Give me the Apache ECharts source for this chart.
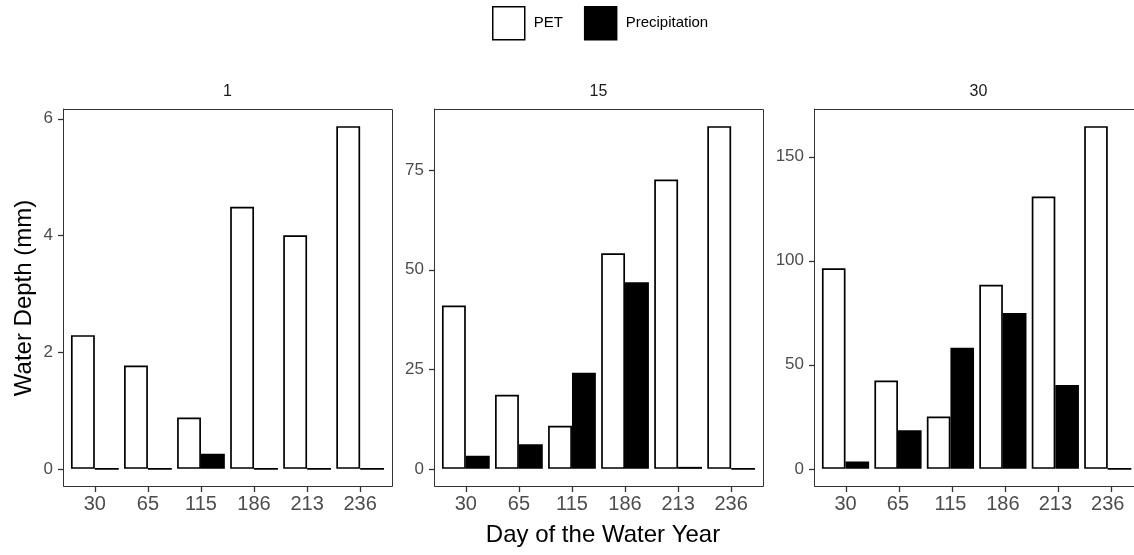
<!DOCTYPE html>
<html>
<head>
<meta charset="utf-8">
<script src="https://cdn.jsdelivr.net/npm/echarts@6/dist/echarts.min.js"></script>
<style>
html,body{margin:0;padding:0;background:#fff;}
#chart{width:1134px;height:555px;}
</style>
</head>
<body>
<div id="chart"></div>
<script>
// ---- data ----
const days = ['30', '65', '115', '186', '213', '236'];
const panelNames = ['1', '15', '30'];
const pet1 = [2.29, 1.77, 0.88, 4.49, 4.0, 5.87];
const precip1 = [0, 0, 0.26, 0, 0, 0];
const pet15 = [41.0, 18.6, 10.8, 54.1, 72.6, 86.0];
const precip15 = [3.3, 6.2, 24.1, 46.8, 0.5, 0];
const pet30 = [96.3, 42.4, 25.1, 88.4, 130.8, 164.6];
const precip30 = [3.5, 18.5, 58.2, 74.8, 40.3, 0];
const ticks1 = [0, 2, 4, 6];
const ticks15 = [0, 25, 50, 75];
const ticks30 = [0, 50, 100, 150];

const petSets = [pet1, pet15, pet30];
const precipSets = [precip1, precip15, precip30];
const tickSets = [ticks1, ticks15, ticks30];

// ---- layout ----
const FONT = 'Liberation Sans, Arial, Helvetica, sans-serif';
const panelLefts = [63, 434, 814];
const panelTop = 109, panelW = 329, panelH = 377;
const inset = panelW * 0.1 / 6.2;
const dataW = panelW * 6 / 6.2;

const grids = [], xAxes = [], yAxes = [], series = [], graphics = [];
panelLefts.forEach((pl, i) => {
  grids.push({left: pl + inset, top: panelTop, width: dataW, height: panelH, containLabel: false});
  const all = petSets[i].concat(precipSets[i]);
  const mx = Math.max.apply(null, all);
  xAxes.push({
    type: 'category', gridIndex: i, data: days, position: 'bottom',
    axisLine: {show: true, onZero: false, lineStyle: {color: '#333333', width: 1}},
    axisTick: {show: false},
    axisLabel: {color: '#4d4d4d', fontSize: 20, fontFamily: FONT, margin: 8},
    splitLine: {show: false}
  });
  yAxes.push({
    type: 'value', gridIndex: i, min: -0.05 * mx, max: 1.05 * mx,
    offset: inset,
    axisLine: {show: true, onZero: false, lineStyle: {color: '#333333', width: 1}},
    axisTick: {show: false},
    axisLabel: {color: '#4d4d4d', fontSize: 17, fontFamily: FONT, margin: 10, customValues: tickSets[i]},
    splitLine: {show: false}
  });
  series.push({
    name: 'PET', type: 'bar', xAxisIndex: i, yAxisIndex: i, data: petSets[i],
    barGap: '0%', barCategoryGap: '10%',
    itemStyle: {color: '#ffffff', borderColor: '#000000', borderWidth: 1.7},
    emphasis: {disabled: true}, animation: false
  });
  series.push({
    name: 'Precipitation', type: 'bar', xAxisIndex: i, yAxisIndex: i, data: precipSets[i],
    barGap: '0%', barCategoryGap: '10%',
    itemStyle: {color: '#000000', borderColor: '#000000', borderWidth: 1.7},
    emphasis: {disabled: true}, animation: false
  });
  graphics.push({
    type: 'rect', z: 10, silent: true,
    shape: {x: pl + 0.5, y: panelTop + 0.5, width: panelW, height: panelH},
    style: {fill: null, stroke: '#333333', lineWidth: 1}
  });
  graphics.push({
    type: 'text', z: 10, silent: true,
    x: pl + panelW / 2, y: 92,
    style: {text: panelNames[i], fill: '#1a1a1a', font: '16px ' + FONT, align: 'center', verticalAlign: 'middle'}
  });
  // x-axis tick marks at the centre of each category band
  const band = dataW / days.length;
  days.forEach((d, k) => {
    const xx = Math.round(pl + inset + (k + 0.5) * band) + 0.5;
    const yb = panelTop + panelH + 1;
    graphics.push({
      type: 'rect', z: 10, silent: true,
      shape: {x: xx - 0.65, y: yb, width: 1.3, height: 5},
      style: {fill: '#333333', stroke: null}
    });
  });
});

graphics.push({
  type: 'text', silent: true, x: 24, y: 298, rotation: Math.PI / 2,
  style: {text: 'Water Depth (mm)', fill: '#000000', font: '24px ' + FONT, align: 'center', verticalAlign: 'middle'}
});
graphics.push({
  type: 'text', silent: true, x: 603, y: 535,
  style: {text: 'Day of the Water Year', fill: '#000000', font: '24px ' + FONT, align: 'center', verticalAlign: 'middle'}
});

const chart = echarts.init(document.getElementById('chart'), null, {renderer: 'canvas'});
const option = {
  animation: false,
  backgroundColor: '#ffffff',
  legend: {
    left: 492, top: 6, padding: 0,
    itemWidth: 32, itemHeight: 33, itemGap: 21,
    icon: 'rect',
    textStyle: {color: '#000000', fontSize: 15, fontFamily: FONT, padding: [3, 0, 0, 4]},
    data: [
      {name: 'PET', itemStyle: {color: '#ffffff', borderColor: '#000000', borderWidth: 1.5}},
      {name: 'Precipitation', itemStyle: {color: '#000000', borderColor: '#000000', borderWidth: 1.5}}
    ]
  },
  grid: grids,
  xAxis: xAxes,
  yAxis: yAxes,
  series: series,
  graphic: graphics
};
chart.setOption(option);

// y tick marks placed through the chart's own value->pixel conversion
const tickGraphics = [];
tickSets.forEach((ts, i) => {
  ts.forEach(v => {
    const p = chart.convertToPixel({yAxisIndex: i}, v);
    const yy = Math.round(p) + 0.5;
    tickGraphics.push({
      type: 'line', z: 10, silent: true,
      shape: {x1: panelLefts[i] - 5, y1: yy, x2: panelLefts[i], y2: yy},
      style: {stroke: '#333333', lineWidth: 1.3}
    });
  });
});
chart.setOption({graphic: graphics.concat(tickGraphics)}, {replaceMerge: ['graphic']});
</script>
</body>
</html>
